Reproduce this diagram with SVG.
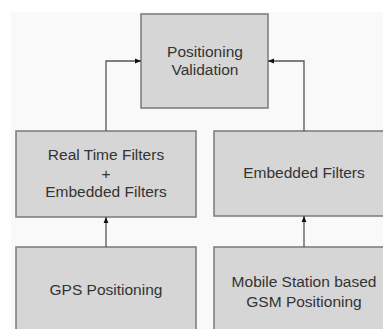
<svg xmlns="http://www.w3.org/2000/svg" width="383" height="329" viewBox="0 0 383 329">
<defs>
<style>
.box{fill:#d6d6d6;stroke:#7a7a7a;stroke-width:1.5}
.t{font-family:"Liberation Sans",Arial,sans-serif;font-size:15.5px;fill:#333;text-anchor:middle}
.c{fill:none;stroke:#555;stroke-width:1.3}
</style>
<marker id="ah" viewBox="0 0 10 10" refX="10" refY="5" markerWidth="6" markerHeight="6" orient="auto" markerUnits="userSpaceOnUse">
<path d="M0,1 L10,5 L0,9 Z" fill="#111"/>
</marker>
</defs>
<rect x="0" y="0" width="383" height="329" fill="#ffffff"/>
<rect x="11" y="12" width="372" height="317" fill="#f9f9f9"/>
<g id="validation">
<rect class="box" x="141" y="14" width="127" height="94"/>
<text class="t" x="205" y="57">Positioning</text>
<text class="t" x="205" y="75">Validation</text>
</g>
<g id="rt-filters">
<rect class="box" x="16" y="131" width="180" height="86"/>
<text class="t" x="106" y="160">Real Time Filters</text>
<text class="t" x="106" y="179">+</text>
<text class="t" x="106" y="197">Embedded Filters</text>
</g>
<g id="emb-filters">
<rect class="box" x="214" y="131" width="175" height="85"/>
<text class="t" x="304" y="178">Embedded Filters</text>
</g>
<g id="gps">
<rect class="box" x="16" y="247" width="180" height="90"/>
<text class="t" x="106" y="295">GPS Positioning</text>
</g>
<g id="gsm">
<rect class="box" x="214" y="247" width="175" height="90"/>
<text class="t" x="304" y="287">Mobile Station based</text>
<text class="t" x="304" y="307">GSM Positioning</text>
</g>
<g id="connectors">
<path class="c" d="M106,131 V61 H141" marker-end="url(#ah)"/>
<path class="c" d="M304,131 V61 H268" marker-end="url(#ah)"/>
<path class="c" d="M106,247 V217" marker-end="url(#ah)"/>
<path class="c" d="M304,247 V216" marker-end="url(#ah)"/>
</g>
</svg>
